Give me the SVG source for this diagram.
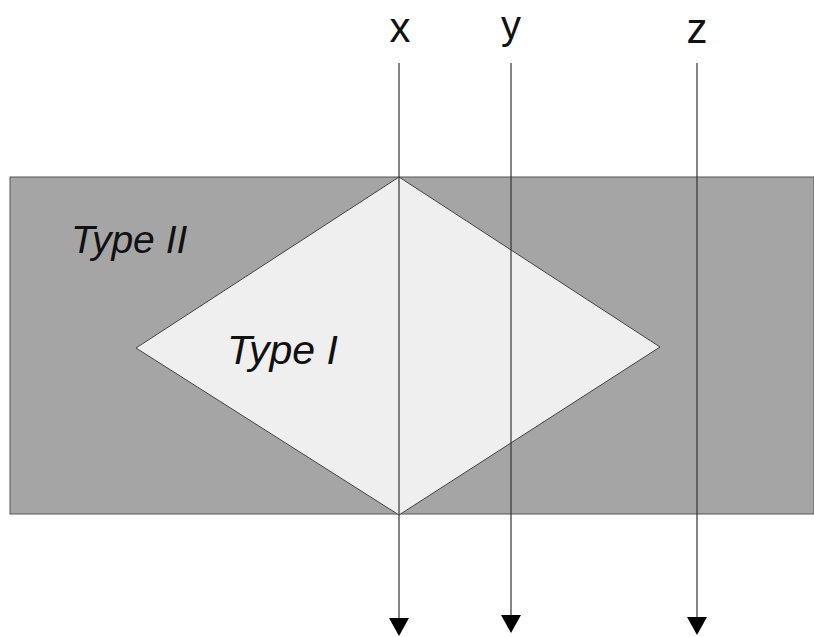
<svg xmlns="http://www.w3.org/2000/svg" width="814" height="637" viewBox="0 0 814 637">
<style>
.lbl{font-family:"Liberation Sans",Arial,sans-serif;fill:#111}
.it{font-style:italic}
.ln{stroke:#333;stroke-width:1.2;fill:none}
</style>
<defs>
<marker id="ah" markerWidth="20" markerHeight="18" refX="10" refY="0" markerUnits="userSpaceOnUse" orient="0" viewBox="0 0 20 18">
<path d="M0,0 L20,0 L10,18 Z" fill="#000"/>
</marker>
</defs>
<rect width="814" height="637" fill="#fff"/>
<g id="typeII">
<rect x="10" y="177" width="804" height="337" fill="#a5a5a5" stroke="#555" stroke-width="1"/>
<text class="lbl it" x="71" y="253" font-size="39">Type II</text>
</g>
<g id="typeI">
<polygon points="399,177 660,347 399,515 136,348" fill="#efefef" stroke="#444" stroke-width="1"/>
<text class="lbl it" x="227" y="364" font-size="41">Type I</text>
</g>
<g id="labels">
<text class="lbl" x="400" y="42" font-size="42" text-anchor="middle">x</text>
<text class="lbl" x="511" y="39" font-size="40" text-anchor="middle">y</text>
<text class="lbl" x="697" y="43" font-size="42" text-anchor="middle">z</text>
</g>
<g id="connectors">
<line class="ln" x1="399" y1="63" x2="399" y2="618" marker-end="url(#ah)"/>
<line class="ln" x1="511" y1="63" x2="511" y2="615" marker-end="url(#ah)"/>
<line class="ln" x1="697" y1="63" x2="697" y2="617" marker-end="url(#ah)"/>
</g>
</svg>
